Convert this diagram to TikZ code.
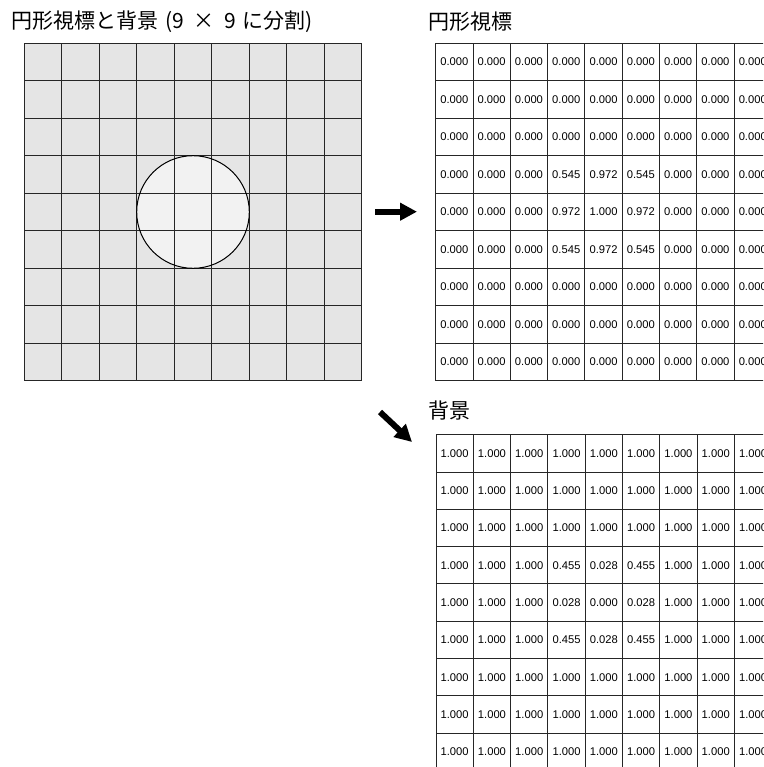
\documentclass[tikz,border=0pt]{standalone}
\usepackage{fontspec}
\setmainfont{Liberation Sans}
\newfontfamily\jpfont{Noto Sans CJK JP}
\usetikzlibrary{arrows.meta}
\tikzset{
  titletext/.style={anchor=west, inner sep=0pt, font=\jpfont\fontsize{21}{24}\selectfont},
  cellval/.style={inner sep=0pt, font=\fontsize{11.2}{13}\selectfont},
  gridline/.style={draw=black!85, line width=1pt},
  bigarrow/.style={line width=6pt, -{Triangle[length=17pt,width=17pt]}}
}
\begin{document}
\begin{tikzpicture}[x=1pt,y=-1pt]
\clip (0,0) rectangle (763,767);
\fill[white] (0,0) rectangle (763,767);
% titles
\node[titletext] (t1) at (11,22) {円形視標と背景\hspace{0.35em}(9\hspace{0.45em}×\hspace{0.45em}9\hspace{0.3em}に分割)};
\node[titletext] (t2) at (428,22) {円形視標};
\node[titletext] (t3) at (428,411) {背景};
% left grid
\fill[fill=black!10] (24,43.3) rectangle (361.5,380.8);
\fill[fill=black!5] (193,212) circle (56.3);
\foreach \i in {0,...,9}{
  \draw[gridline] ({24+37.5*\i},43.3) -- ({24+37.5*\i},380.8);
  \draw[gridline] (24,{43.3+37.5*\i}) -- (361.5,{43.3+37.5*\i});
}
\draw[black, line width=1pt] (193,212) circle (56.3);
% top table
\foreach \i in {0,...,9}{
  \draw[gridline] ({435.7+37.3*\i},43.3) -- ({435.7+37.3*\i},380.8);
  \draw[gridline] (435.7,{43.3+37.5*\i}) -- (771.4,{43.3+37.5*\i});
}
\foreach \r/\row in {1/{0.000,0.000,0.000,0.000,0.000,0.000,0.000,0.000,0.000},
                     2/{0.000,0.000,0.000,0.000,0.000,0.000,0.000,0.000,0.000},
                     3/{0.000,0.000,0.000,0.000,0.000,0.000,0.000,0.000,0.000},
                     4/{0.000,0.000,0.000,0.545,0.972,0.545,0.000,0.000,0.000},
                     5/{0.000,0.000,0.000,0.972,1.000,0.972,0.000,0.000,0.000},
                     6/{0.000,0.000,0.000,0.545,0.972,0.545,0.000,0.000,0.000},
                     7/{0.000,0.000,0.000,0.000,0.000,0.000,0.000,0.000,0.000},
                     8/{0.000,0.000,0.000,0.000,0.000,0.000,0.000,0.000,0.000},
                     9/{0.000,0.000,0.000,0.000,0.000,0.000,0.000,0.000,0.000}}{
  \foreach \v [count=\c] in \row {
    \node[cellval] (a-\r-\c) at ({435.7+37.3*(\c-0.5)},{43.3+37.5*(\r-0.5)}) {\v};
  }
}
% bottom table
\foreach \i in {0,...,9}{
  \draw[gridline] ({436+37.3*\i},434.7) -- ({436+37.3*\i},770.4);
  \draw[gridline] (436,{434.7+37.3*\i}) -- (771.7,{434.7+37.3*\i});
}
\foreach \r/\row in {1/{1.000,1.000,1.000,1.000,1.000,1.000,1.000,1.000,1.000},
                     2/{1.000,1.000,1.000,1.000,1.000,1.000,1.000,1.000,1.000},
                     3/{1.000,1.000,1.000,1.000,1.000,1.000,1.000,1.000,1.000},
                     4/{1.000,1.000,1.000,0.455,0.028,0.455,1.000,1.000,1.000},
                     5/{1.000,1.000,1.000,0.028,0.000,0.028,1.000,1.000,1.000},
                     6/{1.000,1.000,1.000,0.455,0.028,0.455,1.000,1.000,1.000},
                     7/{1.000,1.000,1.000,1.000,1.000,1.000,1.000,1.000,1.000},
                     8/{1.000,1.000,1.000,1.000,1.000,1.000,1.000,1.000,1.000},
                     9/{1.000,1.000,1.000,1.000,1.000,1.000,1.000,1.000,1.000}}{
  \foreach \v [count=\c] in \row {
    \node[cellval] (b-\r-\c) at ({436+37.3*(\c-0.5)},{434.7+37.3*(\r-0.5)}) {\v};
  }
}
% arrows
\coordinate (r1) at (375,211.7);
\coordinate (r2) at (417,211.7);
\coordinate (d1) at (380,412);
\coordinate (d2) at (412,442);
\draw[bigarrow] (r1) -- (r2);
\draw[bigarrow] (d1) -- (d2);
\end{tikzpicture}
\end{document}
